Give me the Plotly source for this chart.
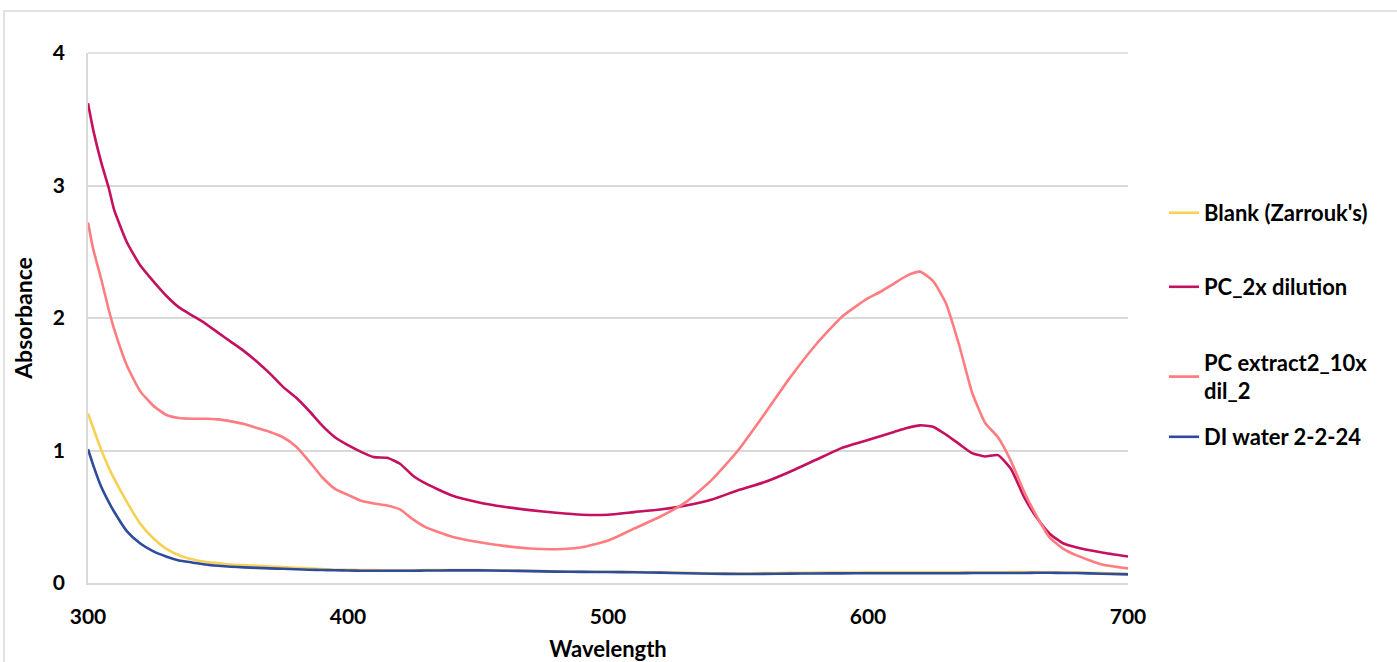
import plotly.graph_objects as go

wavelength = [300, 302, 305, 308, 310,
              315, 320, 325, 330, 335, 340, 345, 350, 355, 360, 365, 370, 375, 380,
              385, 390, 395, 400, 405, 410, 415, 420, 425, 430,
              440, 450, 460, 470, 480, 490, 500, 510, 520, 530, 540, 550, 560, 570,
              580, 590, 600,
              605, 610, 615, 620, 625, 630, 635, 640, 645, 650, 655, 660, 665, 670,
              675, 680,
              690, 700]

blank_zarrouk = [1.28, 1.17, 1.01, 0.87, 0.79,
                 0.61, 0.45, 0.34, 0.26, 0.21, 0.18, 0.16, 0.15, 0.14, 0.135, 0.13, 0.125, 0.12, 0.115,
                 0.11, 0.105, 0.10, 0.10, 0.098, 0.097, 0.096, 0.096, 0.096, 0.097,
                 0.098, 0.098, 0.095, 0.092, 0.088, 0.086, 0.085, 0.083, 0.08, 0.077, 0.074, 0.073, 0.075, 0.077,
                 0.078, 0.079, 0.08,
                 0.08, 0.08, 0.08, 0.08, 0.08, 0.08, 0.08, 0.081, 0.081, 0.081, 0.082, 0.082, 0.082, 0.081,
                 0.08, 0.079,
                 0.075, 0.07]

pc_2x_dilution = [3.62, 3.42, 3.18, 2.98, 2.82,
                  2.57, 2.40, 2.28, 2.17, 2.08, 2.02, 1.96, 1.89, 1.82, 1.75, 1.67, 1.58, 1.48, 1.40,
                  1.30, 1.19, 1.10, 1.04, 0.99, 0.95, 0.945, 0.90, 0.81, 0.75,
                  0.66, 0.61, 0.575, 0.55, 0.53, 0.515, 0.515, 0.535, 0.555, 0.585, 0.63, 0.70, 0.76, 0.84,
                  0.93, 1.02, 1.08,
                  1.11, 1.14, 1.17, 1.19, 1.18, 1.12, 1.05, 0.98, 0.955, 0.965, 0.86, 0.65, 0.49, 0.37,
                  0.30, 0.27,
                  0.23, 0.20]

pc_extract2_10x = [2.72, 2.52, 2.30, 2.06, 1.92,
                   1.64, 1.45, 1.34, 1.27, 1.245, 1.24, 1.24, 1.235, 1.22, 1.20, 1.17, 1.14, 1.10, 1.03,
                   0.92, 0.80, 0.71, 0.665, 0.62, 0.60, 0.585, 0.555, 0.48, 0.42,
                   0.35, 0.31, 0.28, 0.26, 0.255, 0.27, 0.32, 0.41, 0.50, 0.61, 0.78, 1.00, 1.27, 1.55,
                   1.80, 2.01, 2.15,
                   2.20, 2.26, 2.32, 2.35, 2.28, 2.11, 1.80, 1.44, 1.21, 1.10, 0.92, 0.69, 0.50, 0.34,
                   0.26, 0.21,
                   0.14, 0.11]

di_water = [1.01, 0.89, 0.73, 0.61, 0.54,
            0.39, 0.30, 0.24, 0.20, 0.17, 0.155, 0.14, 0.13, 0.123, 0.118, 0.114, 0.11, 0.107, 0.104,
            0.10, 0.098, 0.096, 0.094, 0.093, 0.092, 0.092, 0.092, 0.093, 0.094,
            0.095, 0.095, 0.093, 0.09, 0.086, 0.084, 0.083, 0.081, 0.078, 0.074, 0.07, 0.068, 0.069, 0.071,
            0.072, 0.073, 0.074,
            0.074, 0.074, 0.074, 0.074, 0.074, 0.074, 0.074, 0.075, 0.075, 0.075, 0.076, 0.076, 0.077, 0.077,
            0.076, 0.075,
            0.07, 0.065]

series_names = ["Blank (Zarrouk's)", "PC_2x dilution", "PC extract2_10x<br>dil_2", "DI water 2-2-24"]
series_values = [blank_zarrouk, pc_2x_dilution, pc_extract2_10x, di_water]
series_colors = ["#F7D154", "#C4105F", "#FF7C80", "#2E4C9C"]
legend_ids = ["legend", "legend2", "legend3", "legend4"]

x_ticks = [300, 400, 500, 600, 700]
y_ticks = [0, 1, 2, 3, 4]

FONT = "Lato"

fig = go.Figure()
for name, vals, col, lg in zip(series_names, series_values, series_colors, legend_ids):
    fig.add_trace(go.Scatter(
        x=wavelength, y=vals, name=name, mode="lines",
        line=dict(color=col, width=2.6, shape="spline", smoothing=0.5),
        legend=lg,
    ))

W, H = 1397, 662
L, R, T, B = 88, 1128, 53, 583
pw, ph = R - L, B - T


def px_x(p):
    return (p - L) / pw


def px_y(p):
    return (B - p) / ph


legend_font = dict(family=FONT, size=22, color="#000000", weight="bold")
leg_common = dict(xanchor="left", yanchor="middle", bgcolor="rgba(0,0,0,0)",
                  font=legend_font, itemwidth=30)

fig.update_layout(
    width=W, height=H,
    margin=dict(l=L, r=W - R, t=T, b=H - B),
    paper_bgcolor="white", plot_bgcolor="white",
    font=dict(family=FONT, color="#000000"),
    showlegend=True,
    legend=dict(x=px_x(1164), y=px_y(213), **leg_common),
    legend2=dict(x=px_x(1164), y=px_y(287), **leg_common),
    legend3=dict(x=px_x(1164), y=px_y(377), **leg_common),
    legend4=dict(x=px_x(1164), y=px_y(437), **leg_common),
    xaxis=dict(
        range=[300, 700], tickvals=x_ticks, ticktext=[str(v) for v in x_ticks],
        showgrid=False, zeroline=False, showline=True, linecolor="#D9D9D9", linewidth=1.5,
        ticks="", ticklabelstandoff=14,
        tickfont=dict(family=FONT, size=21, color="#000000", weight="bold"),
        title=dict(text="<b>Wavelength</b>", font=dict(family=FONT, size=22, color="#000000"),
                   standoff=17),
        automargin=False,
    ),
    yaxis=dict(
        range=[0, 4], tickvals=y_ticks, ticktext=[str(v) for v in y_ticks],
        showgrid=True, gridcolor="#D9D9D9", gridwidth=1.5,
        zeroline=False, showline=True, linecolor="#D9D9D9", linewidth=1.5,
        ticks="", ticklabelstandoff=17,
        tickfont=dict(family=FONT, size=21, color="#000000", weight="bold"),
        title=dict(text="<b>Absorbance</b>", font=dict(family=FONT, size=23, color="#000000"),
                   standoff=14),
        automargin=False,
    ),
    shapes=[
        dict(type="path", xref="paper", yref="paper",
             path=f"M {px_x(4)} {px_y(700)} L {px_x(4)} {px_y(11)} L {px_x(1420)} {px_y(11)}",
             line=dict(color="#D9D9D9", width=1.5)),
        dict(type="line", xref="paper", yref="paper", x0=0, x1=1, y0=1, y1=1,
             line=dict(color="#D9D9D9", width=1.5), layer="below"),
    ],
)

fig.write_html("out.html",
               config={"displayModeBar": False},
               post_script="document.body.style.margin='0';document.body.style.overflow='hidden';")
